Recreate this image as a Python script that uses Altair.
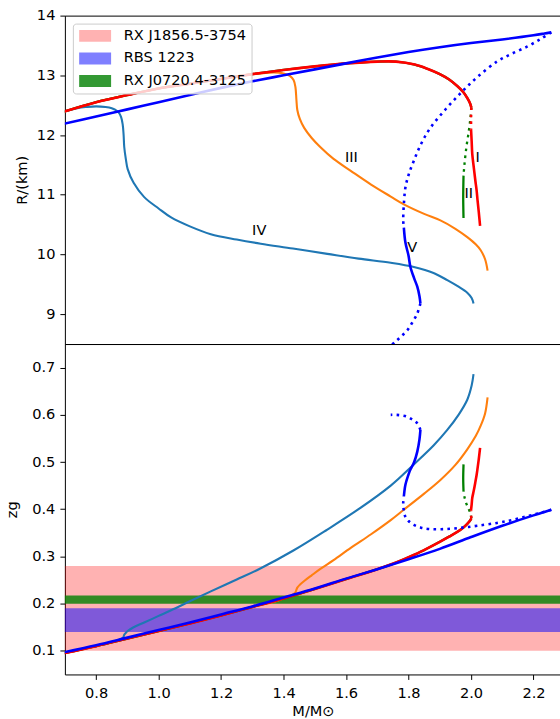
import altair as alt
import pandas as pd

# ---------------- axes ----------------
x_ticks = [0.8, 1.0, 1.2, 1.4, 1.6, 1.8, 2.0, 2.2]
r_ticks = [9, 10, 11, 12, 13, 14]
z_ticks = [0.1, 0.2, 0.3, 0.4, 0.5, 0.6, 0.7]
x_range = [0.7, 2.288]
r_range = [8.5, 14.0]
z_range = [0.05, 0.75]

# ---------------- curves I / II (common hadronic branch) ----------------
m_main = [0.69, 0.8, 0.9, 1.0, 1.1, 1.2, 1.3, 1.4, 1.5, 1.6, 1.7, 1.76, 1.82, 1.86, 1.9, 1.93, 1.956, 1.975, 1.988, 1.997, 2.001]
r_main = [12.38, 12.55, 12.67, 12.78, 12.86, 12.94, 13.02, 13.09, 13.15, 13.20, 13.23, 13.23, 13.18, 13.11, 13.02, 12.93, 12.82, 12.72, 12.62, 12.53, 12.46]
z_main = [0.094, 0.110, 0.126, 0.142, 0.158, 0.175, 0.193, 0.211, 0.231, 0.252, 0.273, 0.287, 0.304, 0.317, 0.331, 0.342, 0.352, 0.361, 0.369, 0.376, 0.381]

m_I_unst = [2.001, 2.0, 2.0]
r_I_unst = [12.46, 12.28, 12.10]
z_I_unst = [0.381, 0.390, 0.398]

m_I_hyb = [2.0, 2.002, 2.004, 2.009, 2.014, 2.018, 2.021, 2.025, 2.029]
r_I_hyb = [12.10, 11.90, 11.68, 11.45, 11.23, 11.07, 10.90, 10.70, 10.48]
z_I_hyb = [0.398, 0.410, 0.424, 0.440, 0.458, 0.473, 0.487, 0.507, 0.530]

m_II_unst = [2.001, 1.998, 1.993, 1.985, 1.979, 1.976]
r_II_unst = [12.46, 12.28, 12.07, 11.79, 11.51, 11.32]
z_II_unst = [0.381, 0.391, 0.400, 0.412, 0.426, 0.438]

m_II_hyb = [1.976, 1.975, 1.976]
r_II_hyb = [11.32, 10.95, 10.61]
z_II_hyb = [0.438, 0.465, 0.495]

# ---------------- curve III ----------------
m_III = [0.69, 0.8, 0.9, 1.0, 1.1, 1.2, 1.3, 1.37, 1.40, 1.42, 1.432, 1.438, 1.441, 1.444, 1.452, 1.466,
         1.49, 1.519, 1.56, 1.615, 1.68, 1.743, 1.785, 1.85, 1.902, 1.95, 1.988, 2.015, 2.031, 2.045, 2.053]
r_III = [12.38, 12.55, 12.67, 12.78, 12.86, 12.94, 13.02, 13.05, 13.03, 12.99, 12.92, 12.80, 12.60, 12.42, 12.27, 12.12,
         11.95, 11.79, 11.60, 11.40, 11.17, 10.97, 10.84, 10.68, 10.57, 10.43, 10.29, 10.17, 10.07, 9.92, 9.73]
z_III = [0.094, 0.110, 0.126, 0.142, 0.158, 0.175, 0.193, 0.204, 0.211, 0.216, 0.220, 0.224, 0.229, 0.234, 0.240, 0.248,
         0.260, 0.274, 0.292, 0.318, 0.347, 0.377, 0.399, 0.433, 0.462, 0.494, 0.527, 0.555, 0.577, 0.603, 0.637]

# ---------------- curve IV ----------------
m_IV = [0.69, 0.74, 0.77, 0.80, 0.83, 0.85, 0.862, 0.872, 0.88, 0.885, 0.888, 0.89, 0.895, 0.901, 0.92, 0.954,
        1.0, 1.04, 1.1, 1.167, 1.25, 1.327, 1.43, 1.54, 1.64, 1.743, 1.817, 1.88, 1.924, 1.96, 1.988, 2.002, 2.008]
r_IV = [12.38, 12.45, 12.47, 12.48, 12.47, 12.45, 12.42, 12.38, 12.30, 12.18, 12.00, 11.80, 11.60, 11.43, 11.20, 10.96,
        10.77, 10.62, 10.47, 10.34, 10.25, 10.18, 10.10, 10.01, 9.93, 9.86, 9.79, 9.69, 9.57, 9.46, 9.36, 9.27, 9.18]
z_IV = [0.094, 0.102, 0.106, 0.110, 0.115, 0.118, 0.121, 0.123, 0.125, 0.127, 0.130, 0.134, 0.138, 0.142, 0.150, 0.160,
        0.174, 0.186, 0.205, 0.226, 0.251, 0.275, 0.312, 0.357, 0.400, 0.450, 0.495, 0.535, 0.568, 0.600, 0.632, 0.662, 0.686]

# ---------------- curve V ----------------
m_V_a = [0.69, 0.8, 0.9, 1.0, 1.1, 1.2, 1.3, 1.4, 1.5, 1.6, 1.7, 1.8, 1.9, 2.0, 2.1, 2.2, 2.235, 2.257]
r_V_a = [12.18, 12.31, 12.43, 12.55, 12.67, 12.79, 12.90, 13.00, 13.10, 13.20, 13.30, 13.39, 13.47, 13.54, 13.60, 13.67, 13.70, 13.72]
z_V_a = [0.096, 0.112, 0.128, 0.144, 0.160, 0.177, 0.194, 0.213, 0.232, 0.253, 0.273, 0.294, 0.316, 0.341, 0.365, 0.387, 0.394, 0.399]

m_V_b = [2.257, 2.22, 2.179, 2.13, 2.083, 2.02, 1.972, 1.92, 1.87, 1.84, 1.817, 1.80, 1.79, 1.785, 1.783, 1.785]
r_V_b = [13.72, 13.60, 13.48, 13.36, 13.23, 12.97, 12.73, 12.44, 12.12, 11.85, 11.57, 11.33, 11.12, 10.84, 10.57, 10.45]
z_V_b = [0.399, 0.392, 0.385, 0.377, 0.371, 0.365, 0.361, 0.358, 0.358, 0.361, 0.367, 0.375, 0.384, 0.397, 0.414, 0.427]

m_V_c = [1.785, 1.790, 1.80, 1.806, 1.818, 1.828, 1.835, 1.838]
r_V_c = [10.45, 10.20, 9.98, 9.79, 9.60, 9.46, 9.30, 9.18]
z_V_c = [0.427, 0.452, 0.474, 0.484, 0.500, 0.522, 0.548, 0.568]

m_V_d = [1.838, 1.828, 1.812, 1.796, 1.775, 1.758, 1.743]
r_V_d = [9.18, 9.01, 8.86, 8.73, 8.62, 8.54, 8.47]
z_V_d = [0.568, 0.582, 0.590, 0.596, 0.599, 0.600, 0.600]

# ---------------- curve labels ----------------
lab_text = ["I", "II", "III", "IV", "V"]
lab_m = [2.021, 1.993, 1.617, 1.322, 1.812]
lab_r = [11.62, 11.01, 11.62, 10.40, 10.11]

# ---------------- observational bands ----------------
band_names = ["RX J1856.5-3754", "RBS 1223", "RX J0720.4-3125"]
band_lo = [0.10, 0.14, 0.20]
band_hi = [0.28, 0.19, 0.217]
band_colors = ["red", "blue", "green"]
band_alpha = [0.3, 0.5, 0.8]

# ---------------- styling ----------------
FONT = "DejaVu Sans"
FS = 14.6
DOT = [2.6, 4.3]
C_IV, C_III, C_II, C_I, C_V = "#1f77b4", "#ff7f0e", "green", "red", "blue"

XS = alt.Scale(domain=x_range, nice=False, zero=False)
RS = alt.Scale(domain=r_range, nice=False, zero=False)
ZS = alt.Scale(domain=z_range, nice=False, zero=False)

x_sep_axis = alt.Axis(title=None, labels=False, ticks=False, domain=False, grid=False)
x_bot_axis = alt.Axis(title="M/M⊙", values=x_ticks, format=".1f", labelPadding=6.5, titlePadding=3, domain=False)
r_axis = alt.Axis(title="R/(km)", values=r_ticks, format="d", titlePadding=7, domain=False)
z_axis = alt.Axis(title="zg", values=z_ticks, format=".1f", titlePadding=12, domain=False)


def seg(ms, vs, color, width, dotted, yscale, xaxis, yaxis):
    df = pd.DataFrame({"M": ms, "v": vs, "i": list(range(len(ms)))})
    kw = dict(color=color, strokeWidth=width, interpolate="catmull-rom", clip=True)
    if dotted:
        kw["strokeDash"] = DOT
    return alt.Chart(df).mark_line(**kw).encode(
        x=alt.X("M:Q", scale=XS, axis=xaxis),
        y=alt.Y("v:Q", scale=yscale, axis=yaxis),
        order=alt.Order("i:Q"),
    )


def curves(vals, yscale, xaxis, yaxis):
    (v_IV, v_III, v_main, v_I_u, v_I_h, v_II_u, v_II_h, v_Va, v_Vb, v_Vc, v_Vd) = vals
    return [
        seg(m_IV, v_IV, C_IV, 2.1, False, yscale, xaxis, yaxis),
        seg(m_III, v_III, C_III, 2.1, False, yscale, xaxis, yaxis),
        seg(m_main, v_main, C_II, 2.3, False, yscale, xaxis, yaxis),
        seg(m_II_unst, v_II_u, C_II, 2.3, True, yscale, xaxis, yaxis),
        seg(m_II_hyb, v_II_h, C_II, 2.3, False, yscale, xaxis, yaxis),
        seg(m_main, v_main, C_I, 2.6, False, yscale, xaxis, yaxis),
        seg(m_I_unst, v_I_u, C_I, 2.6, True, yscale, xaxis, yaxis),
        seg(m_I_hyb, v_I_h, C_I, 2.6, False, yscale, xaxis, yaxis),
        seg(m_V_a, v_Va, C_V, 2.6, False, yscale, xaxis, yaxis),
        seg(m_V_b, v_Vb, C_V, 2.6, True, yscale, xaxis, yaxis),
        seg(m_V_c, v_Vc, C_V, 2.6, False, yscale, xaxis, yaxis),
        seg(m_V_d, v_Vd, C_V, 2.6, True, yscale, xaxis, yaxis),
    ]


top_layers = curves(
    (r_IV, r_III, r_main, r_I_unst, r_I_hyb, r_II_unst, r_II_hyb, r_V_a, r_V_b, r_V_c, r_V_d),
    RS, x_sep_axis, r_axis)

labels_df = pd.DataFrame({"M": lab_m, "v": lab_r, "t": lab_text})
text_layer = alt.Chart(labels_df).mark_text(
    fontSize=FS, font=FONT, color="black", align="center", baseline="middle"
).encode(
    x=alt.X("M:Q", scale=XS, axis=x_sep_axis),
    y=alt.Y("v:Q", scale=RS, axis=r_axis),
    text="t:N",
)

top = alt.layer(*top_layers, text_layer).properties(width=497, height=329)

legend = alt.Legend(
    title=None, orient="none", legendX=8, legendY=8,
    symbolType="M-1,-1H4.333V1H-1Z", symbolSize=144, symbolStrokeWidth=0,
    labelOffset=31.3, rowPadding=7.6, padding=5,
    strokeColor="#cccccc", fillColor="rgba(255,255,255,0.8)", cornerRadius=3,
    labelFontSize=FS, labelFont=FONT, labelColor="black",
)
bands_df = pd.DataFrame({"name": band_names, "lo": band_lo, "hi": band_hi})
band_layer = alt.Chart(bands_df).mark_rect().encode(
    y=alt.Y("lo:Q", scale=ZS, axis=z_axis),
    y2="hi:Q",
    color=alt.Color("name:N", scale=alt.Scale(domain=band_names, range=band_colors), legend=legend),
    opacity=alt.Opacity("name:N", scale=alt.Scale(type="ordinal", domain=band_names, range=band_alpha), legend=legend),
)

bottom_layers = curves(
    (z_IV, z_III, z_main, z_I_unst, z_I_hyb, z_II_unst, z_II_hyb, z_V_a, z_V_b, z_V_c, z_V_d),
    ZS, x_bot_axis, z_axis)

bottom = alt.layer(band_layer, *bottom_layers).properties(width=497, height=331)

chart = (
    alt.vconcat(top, bottom, spacing=0, bounds="flush")
    .properties(padding={"left": 4, "top": 6, "right": -2, "bottom": 2})
    .configure_view(stroke="black", strokeWidth=1)
    .configure_axis(
        labelFont=FONT, titleFont=FONT, labelFontSize=FS, titleFontSize=FS,
        labelColor="black", titleColor="black", tickColor="black",
        tickSize=5, tickWidth=1, labelPadding=5,
        titleFontWeight="normal", grid=False, labelFlush=False, labelOverlap=False,
    )
)

chart.save("out.html", embed_options={"renderer": "svg", "actions": False})
